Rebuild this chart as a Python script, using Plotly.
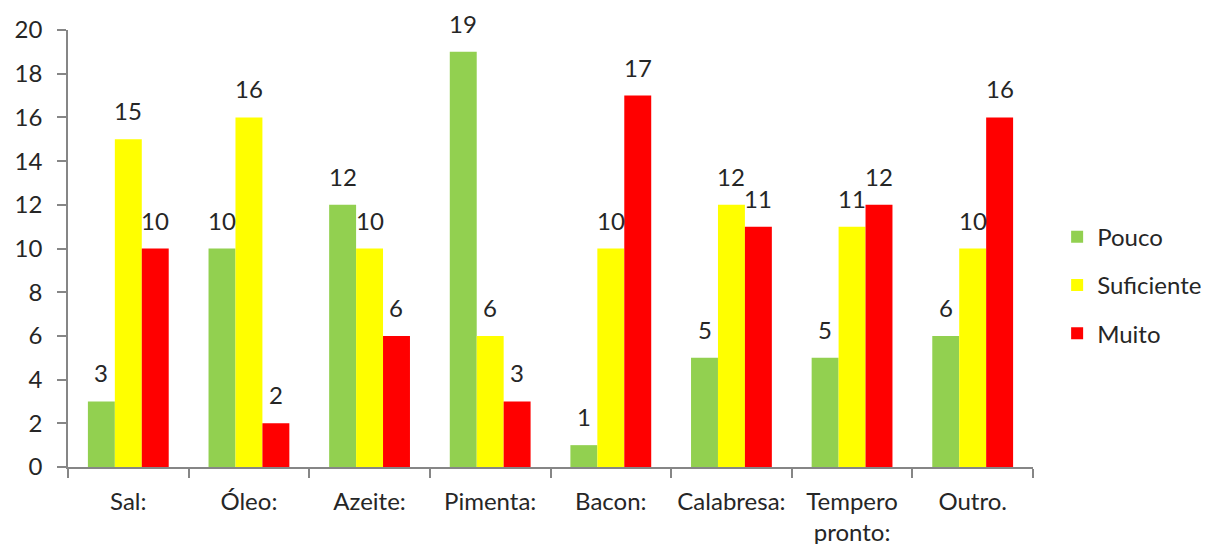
import plotly.graph_objects as go

categories = ["Sal:", "Óleo:", "Azeite:", "Pimenta:", "Bacon:", "Calabresa:", "Tempero<br>pronto:", "Outro."]
pouco = [3, 10, 12, 19, 1, 5, 5, 6]
suficiente = [15, 16, 10, 6, 10, 12, 11, 10]
muito = [10, 2, 6, 3, 17, 11, 12, 16]
series_names = ["Pouco", "Suficiente", "Muito"]
series_colors = ["#92D050", "#FFFF00", "#FF0000"]
y_ticks = list(range(0, 21, 2))

FONT = "Lato"
FS = 24
TXT = "#262626"
AXC = "#868686"

fig = go.Figure()
all_vals = [pouco, suficiente, muito]
for name, vals, col in zip(series_names, all_vals, series_colors):
    fig.add_trace(go.Bar(
        x=categories, y=vals, name=name, marker=dict(color=col, line=dict(width=0)),
        legendgroup=name,
    ))

W, H = 1205, 544
ml, mr, mt, mb = 68, 172, 30, 77
bargap = 0.33
cat_px = (W - ml - mr) / len(categories)
bar_px = cat_px * (1 - bargap) / 3
for si, vals in enumerate(all_vals):
    for c, v in zip(categories, vals):
        fig.add_annotation(
            x=c, y=v, text=str(v), showarrow=False, yanchor="bottom",
            xshift=(si - 1) * bar_px, yshift=12,
            font=dict(family=FONT, size=FS, color=TXT),
        )

fig.update_layout(
    width=W, height=H,
    margin=dict(l=ml, r=mr, t=mt, b=mb, autoexpand=False),
    paper_bgcolor="white", plot_bgcolor="white",
    barmode="group", bargap=bargap, bargroupgap=0,
    font=dict(family=FONT, size=FS, color=TXT),
    legend=dict(x=1.025, xanchor="left", y=0.416, yanchor="middle",
                font=dict(family=FONT, size=FS, color=TXT),
                tracegroupgap=14, bgcolor="rgba(0,0,0,0)"),
    xaxis=dict(
        showline=True, linecolor=AXC, linewidth=1.5,
        ticks="outside", tickson="boundaries", ticklen=9, tickcolor=AXC, tickwidth=1.5,
        showgrid=False, zeroline=False, automargin=False,
        tickfont=dict(family=FONT, size=FS, color=TXT),
        ticklabelstandoff=12,
    ),
    yaxis=dict(
        range=[0, 20], tickvals=y_ticks,
        showline=True, linecolor=AXC, linewidth=1.5,
        ticks="outside", ticklen=9, tickcolor=AXC, tickwidth=1.5,
        showgrid=False, zeroline=False, automargin=False,
        tickfont=dict(family=FONT, size=FS, color=TXT),
        ticklabelstandoff=10,
    ),
)

fig.write_html("out.html")
